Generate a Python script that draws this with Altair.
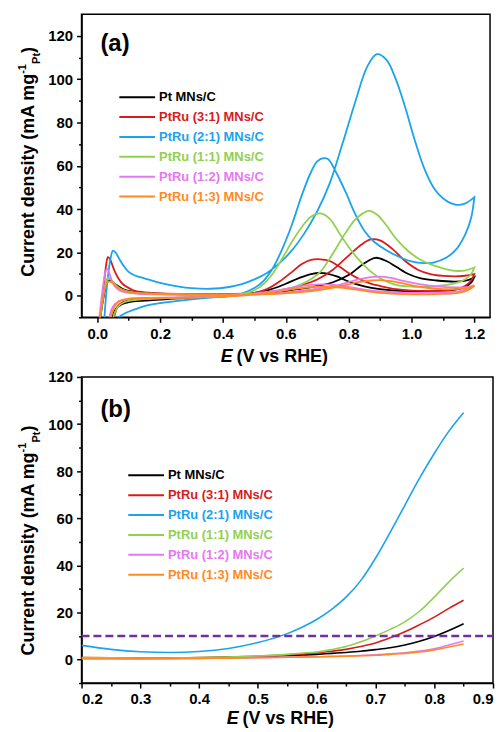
import altair as alt
import pandas as pd

FONT = "Liberation Sans"

names = ["Pt MNs/C", "PtRu (3:1) MNs/C", "PtRu (2:1) MNs/C",
         "PtRu (1:1) MNs/C", "PtRu (1:2) MNs/C", "PtRu (1:3) MNs/C"]
colors = ["#000000", "#d71c1c", "#1aa3ef", "#92d050", "#e878f2", "#ff8a1f"]

# ---------------- Panel (a): CV, forward scan then reverse scan ----------------
pt_fwd_E = [0.005, 0.015, 0.025, 0.032, 0.038, 0.045, 0.06, 0.08, 0.1, 0.13, 0.18, 0.25, 0.3, 0.4, 0.5, 0.55, 0.6, 0.65, 0.7, 0.75, 0.8, 0.85, 0.886, 0.92, 0.95, 0.99, 1.03, 1.08, 1.14, 1.18, 1.2]
pt_fwd_j = [-15, -5, 3, 6.2, 7, 6.7, 5, 3.2, 2.2, 1.5, 1.0, 0.7, 0.6, 0.6, 0.9, 1.3, 2.2, 3.2, 4.5, 6.2, 9.5, 15, 17.5, 16, 13.5, 10, 8, 7, 6.5, 7.2, 8.5]
pt_rev_E = [1.2, 1.19, 1.17, 1.14, 1.1, 1.05, 1.0, 0.95, 0.9, 0.85, 0.8, 0.76, 0.72, 0.68, 0.64, 0.6, 0.55, 0.5, 0.45, 0.4, 0.3, 0.2, 0.15, 0.1, 0.08, 0.06, 0.05, 0.04]
pt_rev_j = [8.5, 6, 4, 2.8, 2.2, 2, 2, 2.3, 3, 4.3, 6.5, 9, 10.4, 10, 8, 5.5, 2.8, 1.3, 0.3, -0.3, -0.9, -1.8, -2.3, -3, -3.8, -6, -9, -15]

r31_fwd_E = [0.005, 0.015, 0.022, 0.028, 0.034, 0.04, 0.047, 0.055, 0.068, 0.08, 0.095, 0.115, 0.14, 0.2, 0.3, 0.4, 0.49, 0.55, 0.6, 0.65, 0.7, 0.75, 0.8, 0.84, 0.87, 0.9, 0.94, 0.98, 1.02, 1.06, 1.12, 1.17, 1.2]
r31_fwd_j = [-15, -4, 6, 14, 17.8, 17, 14.5, 11.5, 7.8, 5.5, 4, 2.5, 1.7, 1.0, 0.7, 0.7, 1.0, 1.8, 3.0, 4.8, 7.5, 12, 18.5, 23.5, 26, 25.5, 21.5, 16, 12, 10, 9, 9.2, 10]
r31_rev_E = [1.2, 1.19, 1.17, 1.14, 1.1, 1.05, 1.0, 0.95, 0.9, 0.87, 0.83, 0.8, 0.77, 0.74, 0.71, 0.68, 0.65, 0.62, 0.58, 0.54, 0.5, 0.45, 0.4, 0.3, 0.2, 0.15, 0.1, 0.08, 0.065, 0.055, 0.045]
r31_rev_j = [10, 7, 4.5, 3, 2.3, 2.1, 2.3, 3, 4.5, 5.6, 8, 10.5, 13.5, 16, 16.8, 16.5, 14.5, 11, 6.5, 3, 1.2, 0.3, -0.3, -0.8, -1.2, -1.5, -2.2, -3, -5, -9, -15]

r21_fwd_E = [0.022, 0.028, 0.035, 0.042, 0.05, 0.058, 0.07, 0.083, 0.1, 0.12, 0.15, 0.19, 0.26, 0.3, 0.36, 0.42, 0.46, 0.5, 0.54, 0.58, 0.62, 0.66, 0.7, 0.74, 0.78, 0.82, 0.86, 0.89, 0.92, 0.95, 0.98, 1.01, 1.04, 1.07, 1.1, 1.14, 1.17, 1.2]
r21_fwd_j = [-12, 0, 10, 17, 20.8, 20, 17, 14, 11, 9.3, 8, 6.3, 4.2, 3.5, 3.2, 4, 5.3, 7.5, 10.5, 15, 21, 29, 39, 52, 70, 89, 106, 111.5, 109, 100, 87, 72, 59, 50, 45, 42, 42.5, 45.5]
r21_rev_E = [1.2, 1.19, 1.17, 1.14, 1.11, 1.07, 1.04, 1.0, 0.96, 0.92, 0.88, 0.85, 0.82, 0.79, 0.76, 0.735, 0.72, 0.7, 0.68, 0.65, 0.62, 0.59, 0.56, 0.53, 0.5, 0.46, 0.42, 0.36, 0.3, 0.25, 0.2, 0.15, 0.12, 0.09, 0.068, 0.05]
r21_rev_j = [45.5, 36, 28, 21, 17.5, 15.3, 15, 15.8, 18, 21, 25, 30, 38, 48, 57, 63, 63.5, 62, 57, 46, 33, 22, 13, 7, 3.5, 1, -0.2, -0.9, -1.7, -2.5, -3.4, -4.8, -6.3, -8, -10, -13]

r11_fwd_E = [0.005, 0.015, 0.024, 0.03, 0.036, 0.043, 0.055, 0.07, 0.09, 0.12, 0.16, 0.25, 0.35, 0.45, 0.52, 0.58, 0.63, 0.67, 0.71, 0.75, 0.79, 0.82, 0.845, 0.865, 0.89, 0.92, 0.95, 0.99, 1.03, 1.08, 1.13, 1.17, 1.2]
r11_fwd_j = [-15, -4, 4, 7.5, 8.3, 7.5, 5.5, 3.5, 2.2, 1.4, 1.0, 0.7, 0.6, 0.7, 1.2, 2.3, 4.2, 6.8, 11, 19.5, 29, 35, 38, 39.2, 37.5, 32.5, 26.5, 20.5, 16.5, 13.5, 11.6, 11.6, 13]
r11_rev_E = [1.2, 1.19, 1.17, 1.14, 1.1, 1.05, 1.0, 0.95, 0.9, 0.86, 0.83, 0.8, 0.77, 0.74, 0.71, 0.68, 0.65, 0.62, 0.59, 0.56, 0.53, 0.5, 0.46, 0.42, 0.35, 0.25, 0.18, 0.12, 0.09, 0.07, 0.055, 0.045]
r11_rev_j = [13, 10, 7.5, 5.8, 4.7, 4.2, 4.2, 5, 8, 12.5, 17, 22.5, 29, 35.5, 38, 36.5, 31.5, 25, 17.5, 10.5, 5.5, 2.5, 0.8, 0, -0.6, -1.0, -1.4, -2, -2.8, -4.5, -8, -15]

r12_fwd_E = [0.003, 0.012, 0.02, 0.026, 0.031, 0.037, 0.045, 0.055, 0.07, 0.09, 0.12, 0.2, 0.3, 0.45, 0.55, 0.62, 0.7, 0.77, 0.83, 0.87, 0.9, 0.93, 0.97, 1.02, 1.08, 1.14, 1.18, 1.2]
r12_fwd_j = [-15, -3, 6, 11, 12.5, 11, 7.5, 4.5, 2.5, 1.5, 1.0, 0.6, 0.4, 0.4, 0.9, 1.8, 3.2, 5, 7.5, 8.6, 8.8, 8.3, 7, 5.5, 4.3, 3.8, 4, 4.8]
r12_rev_E = [1.2, 1.18, 1.15, 1.1, 1.05, 1.0, 0.95, 0.9, 0.85, 0.8, 0.76, 0.72, 0.68, 0.63, 0.58, 0.53, 0.48, 0.42, 0.35, 0.25, 0.15, 0.1, 0.07, 0.05, 0.04, 0.03]
r12_rev_j = [4.8, 3, 2, 1.5, 1.3, 1.3, 1.5, 2, 2.8, 4, 4.9, 5.2, 5, 4, 2.6, 1.5, 0.7, 0, -0.5, -0.8, -1, -1.4, -2.5, -5, -9, -15]

r13_fwd_E = [0.005, 0.015, 0.024, 0.031, 0.038, 0.045, 0.055, 0.07, 0.09, 0.12, 0.16, 0.25, 0.35, 0.45, 0.55, 0.62, 0.7, 0.77, 0.83, 0.87, 0.9, 0.94, 0.98, 1.03, 1.08, 1.14, 1.18, 1.2]
r13_fwd_j = [-15, -4, 3, 6, 6.6, 6.2, 5, 3.3, 2, 1.3, 0.9, 0.6, 0.4, 0.3, 0.7, 1.3, 2.5, 4.2, 6.2, 7, 7.2, 6.6, 5.5, 4, 3.2, 3, 3.6, 4.6]
r13_rev_E = [1.2, 1.18, 1.15, 1.1, 1.05, 1.0, 0.95, 0.9, 0.85, 0.8, 0.76, 0.72, 0.68, 0.63, 0.58, 0.53, 0.48, 0.42, 0.35, 0.25, 0.15, 0.1, 0.07, 0.055, 0.045, 0.035]
r13_rev_j = [4.6, 2.5, 1.3, 0.8, 0.6, 0.6, 0.8, 1.3, 2.2, 3.3, 4, 4.2, 4, 3.2, 2, 1, 0.3, -0.3, -0.7, -1, -1.2, -1.5, -2.5, -5, -9, -15]

# ---------------- Panel (b): linear sweep ----------------
lsv_E = [0.2, 0.25, 0.3, 0.35, 0.4, 0.45, 0.5, 0.55, 0.575, 0.6, 0.625, 0.65, 0.675, 0.7, 0.725, 0.75, 0.775, 0.8, 0.825, 0.85]
lsv_pt = [0.6, 0.55, 0.5, 0.55, 0.7, 0.9, 1.2, 1.6, 1.9, 2.2, 2.6, 3.0, 3.5, 4.2, 5.0, 6.2, 7.8, 9.8, 12.3, 15.2]
lsv_31 = [0.8, 0.7, 0.6, 0.65, 0.8, 1.0, 1.4, 2.0, 2.4, 2.8, 3.5, 4.3, 5.5, 7.0, 9.2, 11.8, 14.8, 18.0, 21.7, 25.2]
lsv_21 = [6.0, 4.3, 3.3, 3.0, 3.4, 4.7, 7.2, 11.0, 13.7, 17.0, 21.2, 26.5, 33.5, 43.0, 54.0, 65.5, 77.0, 87.5, 97.0, 104.8]
lsv_11 = [0.8, 0.7, 0.6, 0.65, 0.8, 1.1, 1.5, 2.2, 2.7, 3.2, 4.2, 5.5, 7.5, 10.0, 12.8, 16.0, 20.5, 26.5, 33.0, 38.8]
lsv_12 = [0.4, 0.35, 0.3, 0.35, 0.5, 0.6, 0.8, 1.0, 1.1, 1.2, 1.35, 1.5, 1.7, 2.0, 2.4, 2.9, 3.6, 4.6, 6.2, 7.9]
lsv_13 = [0.3, 0.3, 0.3, 0.35, 0.5, 0.6, 0.8, 0.95, 1.0, 1.1, 1.25, 1.4, 1.6, 1.8, 2.2, 2.6, 3.2, 4.1, 5.3, 6.6]

dash_level = 10
dash_E = [0.2, 0.9]

# tick values
xa_ticks = [0.0, 0.1, 0.2, 0.3, 0.4, 0.5, 0.6, 0.7, 0.8, 0.9, 1.0, 1.1, 1.2]
ya_ticks = [-10, 0, 10, 20, 30, 40, 50, 60, 70, 80, 90, 100, 110, 120]
xb_ticks = [0.2, 0.25, 0.3, 0.35, 0.4, 0.45, 0.5, 0.55, 0.6, 0.65, 0.7, 0.75, 0.8, 0.85, 0.9]
yb_ticks = [-10, 0, 10, 20, 30, 40, 50, 60, 70, 80, 90, 100, 110, 120]

cv_sets = [
    (names[0], pt_fwd_E, pt_fwd_j, pt_rev_E, pt_rev_j),
    (names[1], r31_fwd_E, r31_fwd_j, r31_rev_E, r31_rev_j),
    (names[2], r21_fwd_E, r21_fwd_j, r21_rev_E, r21_rev_j),
    (names[3], r11_fwd_E, r11_fwd_j, r11_rev_E, r11_rev_j),
    (names[4], r12_fwd_E, r12_fwd_j, r12_rev_E, r12_rev_j),
    (names[5], r13_fwd_E, r13_fwd_j, r13_rev_E, r13_rev_j),
]
cv_rows = []
for name, fE, fj, rE, rj in cv_sets:
    seq = list(zip(fE, fj)) + list(zip(rE, rj))
    for k, (e, v) in enumerate(seq):
        cv_rows.append({"sample": name, "E": e, "j": v, "k": k})
cv_df = pd.DataFrame(cv_rows)

lsv_rows = []
for name, vals in zip(names, [lsv_pt, lsv_31, lsv_21, lsv_11, lsv_12, lsv_13]):
    for e, v in zip(lsv_E, vals):
        lsv_rows.append({"sample": name, "E": e, "j": v})
lsv_df = pd.DataFrame(lsv_rows)

dash_df = pd.DataFrame({"E": [dash_E[0]], "E2": [dash_E[1]], "j": [dash_level]})

color_expr = " : ".join(
    f"datum.value === '{n}' ? '{c}'" for n, c in zip(names[:-1], colors[:-1])
) + f" : '{colors[-1]}'"


def legend(x, y):
    return alt.Legend(title=None, orient="none", legendX=x, legendY=y,
                      symbolType="M-2,0L2,0", symbolSize=324, symbolStrokeWidth=2,
                      labelFont=FONT, labelFontSize=13, labelFontWeight="bold",
                      labelColor=alt.ExprRef(expr=color_expr),
                      rowPadding=3, labelOffset=12, padding=0, labelLimit=300)


def color_enc(x, y):
    return alt.Color("sample:N", scale=alt.Scale(domain=names, range=colors),
                     legend=legend(x, y))


def txt(text, x, y, size, align="left", angle=0, italic=False):
    return alt.Chart(alt.Data(values=[{"t": text}])).mark_text(
        align=align, baseline="alphabetic", angle=angle, font=FONT,
        fontSize=size, fontWeight="bold", fontStyle="italic" if italic else "normal",
        color="black"
    ).encode(text="t:N", x=alt.value(x), y=alt.value(y))


def ylabel(junction):
    return [
        txt("Current density (mA mg", -48, junction, 18, align="right", angle=270),
        txt("-1", -56, junction, 11, angle=270),
        txt("Pt", -42, junction - 10, 11, angle=270),
        txt(")", -48, junction - 21, 18, angle=270),
    ]


def tick_size(expr):
    return alt.ExprRef(expr=f"{expr} ? 5 : 3")


xa_major = "round(datum.value*10) % 2 == 0"
xb_major = "round(datum.value*20) % 2 == 0"
y_major = "round(datum.value/10) % 2 == 0"


def x_axis(values, major):
    return alt.Axis(values=values, title=None, tickSize=tick_size(major),
                    labelExpr=f"{major} ? format(datum.value, '.1f') : ''")


def y_axis(values):
    return alt.Axis(values=values, title=None, tickSize=tick_size(y_major),
                    labelExpr=f"{y_major} ? format(datum.value, 'd') : ''")


# ---------------- Top chart ----------------
xa_scale = alt.Scale(domain=[-0.05, 1.25], nice=False, zero=False)
ya_scale = alt.Scale(domain=[-10, 130], nice=False, zero=False)
cv = alt.Chart(cv_df).mark_line(clip=True, strokeWidth=1.8, interpolate="catmull-rom").encode(
    x=alt.X("E:Q", scale=xa_scale, axis=x_axis(xa_ticks, xa_major)),
    y=alt.Y("j:Q", scale=ya_scale, axis=y_axis(ya_ticks)),
    color=color_enc(46, 73.5),
    order=alt.Order("k:Q"),
)

top = alt.layer(
    cv,
    *ylabel(60),
    txt("E", 152, 350, 18, align="right", italic=True),
    txt("(V vs RHE)", 156, 350, 18),
    txt("(a)", 19, 37, 24),
).properties(width=411, height=305)

# ---------------- Bottom chart ----------------
xb_scale = alt.Scale(domain=[0.2, 0.9], nice=False, zero=False)
yb_scale = alt.Scale(domain=[-10, 120], nice=False, zero=False)
lsv = alt.Chart(lsv_df).mark_line(clip=True, strokeWidth=1.6, interpolate="monotone").encode(
    x=alt.X("E:Q", scale=xb_scale, axis=x_axis(xb_ticks, xb_major)),
    y=alt.Y("j:Q", scale=yb_scale, axis=y_axis(yb_ticks)),
    color=color_enc(55, 89),
)

dash = alt.Chart(dash_df).mark_rule(color="#7030a0", strokeWidth=2.5, strokeDash=[8, 4]).encode(
    x=alt.X("E:Q", scale=xb_scale, axis=x_axis(xb_ticks, xb_major)),
    x2="E2:Q",
    y=alt.Y("j:Q", scale=yb_scale, axis=y_axis(yb_ticks)),
)

bottom = alt.layer(
    lsv, dash,
    *ylabel(76),
    txt("E", 158, 349, 18, align="right", italic=True),
    txt("(V vs RHE)", 162, 349, 18),
    txt("(b)", 19, 40, 24),
).properties(width=414, height=308)

chart = alt.vconcat(top, bottom, spacing=2).resolve_scale(color="independent").properties(
    padding={"left": 8, "top": 3, "right": 0, "bottom": 0}
).configure_view(stroke="black", strokeWidth=1.5).configure_axis(
    domainColor="black", domainWidth=1.5, tickColor="black", tickWidth=1.5,
    labelFont=FONT, labelFontSize=15, labelFontWeight="bold", labelColor="black",
    labelPadding=4, grid=False
)

chart.save("out.html", embed_options={"renderer": "svg", "actions": False})
